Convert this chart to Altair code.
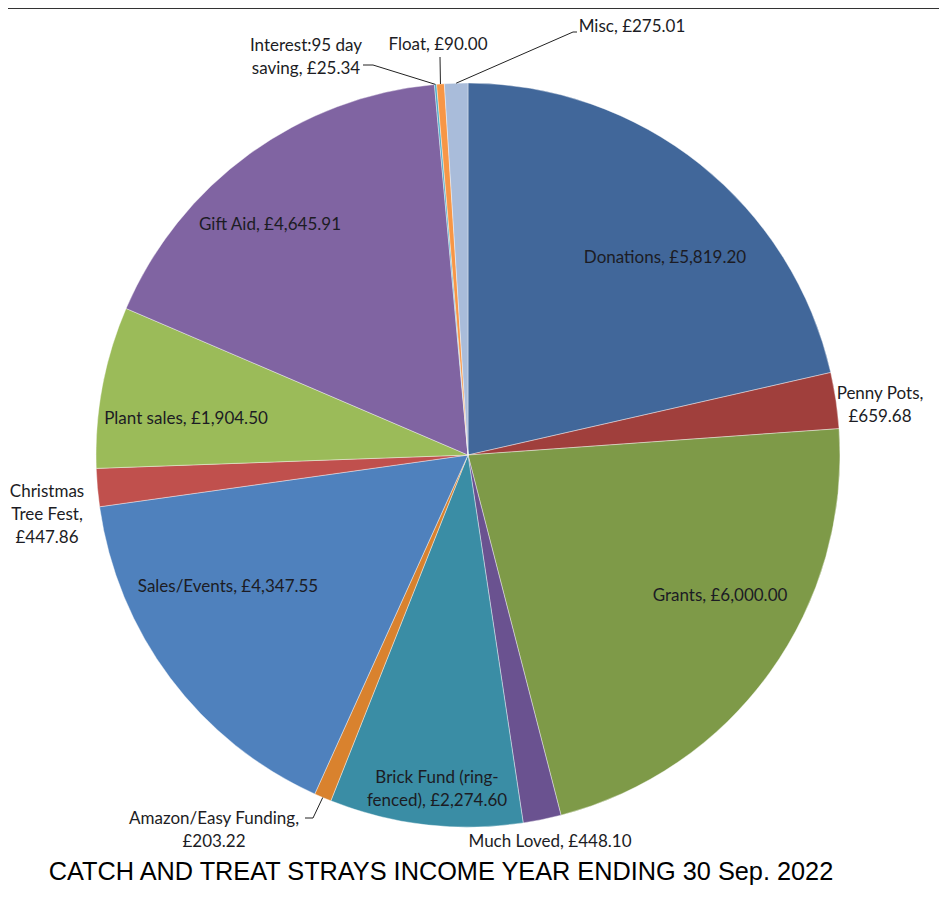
import math
import altair as alt
import pandas as pd

# ---------------- data ----------------
categories = ["Donations", "Penny Pots", "Grants", "Much Loved",
              "Brick Fund (ring-fenced)", "Amazon/Easy Funding", "Sales/Events",
              "Christmas Tree Fest", "Plant sales", "Gift Aid",
              "Interest:95 day saving", "Float", "Misc"]
values = [5819.20, 659.68, 6000.00, 448.10, 2274.60, 203.22, 4347.55,
          447.86, 1904.50, 4645.91, 25.34, 90.00, 275.01]
labels = ["Donations, £5,819.20", "Penny Pots,\n£659.68", "Grants, £6,000.00",
          "Much Loved, £448.10", "Brick Fund (ring-\nfenced), £2,274.60",
          "Amazon/Easy Funding,\n£203.22", "Sales/Events, £4,347.55",
          "Christmas\nTree Fest,\n£447.86", "Plant sales, £1,904.50",
          "Gift Aid, £4,645.91", "Interest:95 day\nsaving, £25.34",
          "Float, £90.00", "Misc, £275.01"]
title_text = "CATCH AND TREAT STRAYS INCOME YEAR ENDING 30 Sep. 2022"

# ---------------- styles / layout ----------------
colors = ["#41679A", "#A03F3C", "#7E9A48", "#6A5290", "#3A8DA5", "#D9822E",
          "#4F81BD", "#C0504D", "#9BBB59", "#8064A2", "#4BACC6", "#F79646",
          "#A9BCDA"]
W, H = 931, 883
CX, CY, R = 460, 447, 372
# label anchor offsets from pie centre (px)
label_off = [(197, -197), (412, -61), (252, 141), (82, 387), (-31, 323),
             (-254, 364), (-240, 132), (-421, 37), (-282, -36), (-198, -230),
             (-162, -409), (-30, -410), (164, -428)]
# leader line elbow points (offsets from centre), for outside labels
leader_pts = {
    "Amazon/Easy Funding": [(-163, 363), (-155, 363)],
    "Interest:95 day saving": [(-105, -390), (-95, -390)],
    "Float": [(-28, -398)],
    "Misc": [(109, -423), (105, -423)],
}

df = pd.DataFrame({"category": categories, "value": values,
                   "order": list(range(len(categories)))})

total = sum(values)
mid_angles = []
cum = 0.0
for v in values:
    mid_angles.append((cum + v / 2) / total * 2 * math.pi)
    cum += v

lab = pd.DataFrame({
    "category": categories,
    "label": labels,
    "px": [CX + dx for dx, dy in label_off],
    "py": [CY + dy for dx, dy in label_off],
})

rows = []
for i, c in enumerate(categories):
    if c in leader_pts:
        pts = [(CX + dx, CY + dy) for dx, dy in leader_pts[c]]
        a = mid_angles[i]
        pts.append((CX + R * math.sin(a), CY - R * math.cos(a)))
        for k, (x, y) in enumerate(pts):
            rows.append({"category": c, "k": k, "px": x, "py": y})
lead = pd.DataFrame(rows)

xs = alt.Scale(domain=[0, W], range=[0, W])
ys = alt.Scale(domain=[0, H], range=[0, H])

pie = alt.Chart(df).mark_arc(stroke="white", strokeWidth=0.4).encode(
    theta=alt.Theta("value:Q", stack=True),
    order=alt.Order("order:Q"),
    color=alt.Color("category:N", scale=alt.Scale(domain=categories, range=colors),
                    legend=None),
    x=alt.value(CX), y=alt.value(CY),
    radius=alt.value(R),
)

text = alt.Chart(lab).mark_text(
    font="Lato", fontSize=17, color="#1c1c24", align="center",
    baseline="middle", lineBreak="\n", lineHeight=23,
).encode(
    x=alt.X("px:Q", scale=xs, axis=None),
    y=alt.Y("py:Q", scale=ys, axis=None),
    text="label:N",
)

leaders = alt.Chart(lead).mark_line(color="#222222", strokeWidth=1).encode(
    x=alt.X("px:Q", scale=xs, axis=None),
    y=alt.Y("py:Q", scale=ys, axis=None),
    detail="category:N",
    order="k:Q",
)

title = alt.Chart(pd.DataFrame({"t": [title_text]})).mark_text(
    font="Liberation Sans", fontSize=25.3, color="#000000", align="center",
    baseline="middle",
).encode(x=alt.value(433), y=alt.value(864), text="t:N")

border = alt.Chart(pd.DataFrame({"a": [0]})).mark_rule(
    color="#333333", strokeWidth=2
).encode(x=alt.value(0), x2=alt.value(W), y=alt.value(0))

chart = alt.layer(border, pie, leaders, text, title).properties(
    width=W, height=H, padding=0,
    autosize=alt.AutoSizeParams(type="none"),
).configure_view(stroke=None)

chart.save("out.html", embed_options={"renderer": "svg", "actions": False})
